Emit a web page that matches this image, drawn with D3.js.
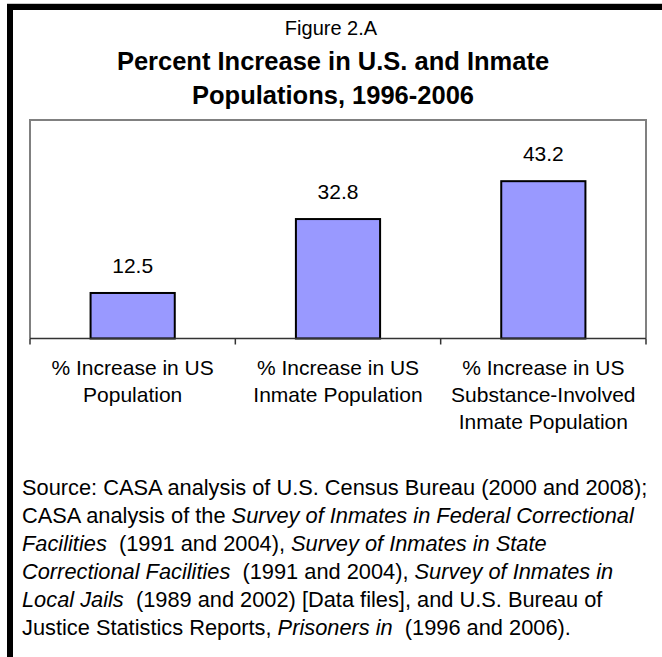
<!DOCTYPE html>
<html>
<head>
<meta charset="utf-8">
<script src="https://cdn.jsdelivr.net/npm/d3@7"></script>
<style>
  html, body { margin: 0; padding: 0; background: #fff; }
  svg { display: block; font-family: "Liberation Sans", Arial, sans-serif; }
</style>
</head>
<body>
<svg id="chart" width="662" height="657"></svg>
<script>
const categories = [
  ["% Increase in US", "Population"],
  ["% Increase in US", "Inmate Population"],
  ["% Increase in US", "Substance-Involved", "Inmate Population"]
];
const values = [12.5, 32.8, 43.2];
const yDomain = [0, 60];
const figureLabel = "Figure 2.A";
const titleLines = ["Percent Increase in U.S. and Inmate", "Populations, 1996-2006"];
// source lines: [text, italic?] segments
const sourceLines = [
  [["Source: CASA analysis of U.S. Census Bureau (2000 and 2008);", false]],
  [["CASA analysis of the ", false], ["Survey of Inmates in Federal Correctional", true]],
  [["Facilities", true], ["  (1991 and 2004), ", false], ["Survey of Inmates in State", true]],
  [["Correctional Facilities", true], ["  (1991 and 2004), ", false], ["Survey of Inmates in", true]],
  [["Local Jails", true], ["  (1989 and 2002) [Data files], and U.S. Bureau of", false]],
  [["Justice Statistics Reports, ", false], ["Prisoners in", true], ["  (1996 and 2006).", false]]
];

const svg = d3.select("#chart");
svg.append("rect").attr("width", 662).attr("height", 657).attr("fill", "#fff");

// outer frame
svg.append("line").attr("x1", 7).attr("x2", 662).attr("y1", 3.5).attr("y2", 3.5)
  .attr("stroke", "#c8c8c8").attr("stroke-width", 1);
svg.append("rect").attr("x", 10).attr("y", 7).attr("width", 700).attr("height", 700)
  .attr("fill", "none").attr("stroke", "#000").attr("stroke-width", 6);

// titles
svg.append("text").attr("x", 331).attr("y", 35).attr("text-anchor", "middle")
  .attr("font-size", 20).text(figureLabel);
svg.selectAll("text.title").data(titleLines).join("text").attr("class", "title")
  .attr("x", 333).attr("y", (d, i) => 70 + i * 34).attr("text-anchor", "middle")
  .attr("font-size", 25.5).attr("font-weight", "bold").text(d => d);

// plot
const plot = { left: 30, right: 646, top: 120, bottom: 338.5 };
const x = d3.scaleBand().domain(d3.range(values.length))
  .range([plot.left, plot.right]).paddingInner(0.59).paddingOuter(0.295);
const y = d3.scaleLinear().domain(yDomain).range([plot.bottom, plot.top]);

svg.append("path")
  .attr("d", `M${plot.left},${plot.bottom}V${plot.top}H${plot.right}V${plot.bottom}`)
  .attr("fill", "none").attr("stroke", "#808080").attr("stroke-width", 2);

svg.selectAll("rect.bar").data(values).join("rect").attr("class", "bar")
  .attr("x", (d, i) => x(i)).attr("width", x.bandwidth())
  .attr("y", d => y(d)).attr("height", d => y(0) - y(d))
  .attr("fill", "#9999FF").attr("stroke", "#000").attr("stroke-width", 2);

svg.selectAll("text.val").data(values).join("text").attr("class", "val")
  .attr("x", (d, i) => x(i) + x.bandwidth() / 2).attr("y", d => y(d) - 20)
  .attr("text-anchor", "middle").attr("font-size", 21).text(d => d.toFixed(1));

// x axis
const step = x.step();
const axisG = svg.append("g");
axisG.append("line").attr("x1", plot.left).attr("x2", plot.right)
  .attr("y1", plot.bottom).attr("y2", plot.bottom).attr("stroke", "#333").attr("stroke-width", 1.5);
const boundaries = d3.range(values.length + 1).map(i => plot.left + i * step);
axisG.selectAll("line.tick").data(boundaries).join("line").attr("class", "tick")
  .attr("x1", d => d).attr("x2", d => d).attr("y1", plot.bottom).attr("y2", plot.bottom + 6)
  .attr("stroke", "#333").attr("stroke-width", 1.5);

const catG = svg.selectAll("text.cat").data(categories).join("text").attr("class", "cat")
  .attr("text-anchor", "middle").attr("font-size", 21);
catG.selectAll("tspan").data((d, i) => d.map(s => ({ s, i }))).join("tspan")
  .attr("x", d => x(d.i) + x.bandwidth() / 2)
  .attr("y", (d, j) => 375 + j * 27).text(d => d.s);

// source
const src = svg.selectAll("text.src").data(sourceLines).join("text").attr("class", "src")
  .attr("x", 22).attr("y", (d, i) => 495 + i * 28).attr("font-size", 21.8)
  .style("white-space", "pre");
src.selectAll("tspan").data(d => d).join("tspan")
  .attr("font-style", d => d[1] ? "italic" : "normal").text(d => d[0]);
</script>
</body>
</html>
